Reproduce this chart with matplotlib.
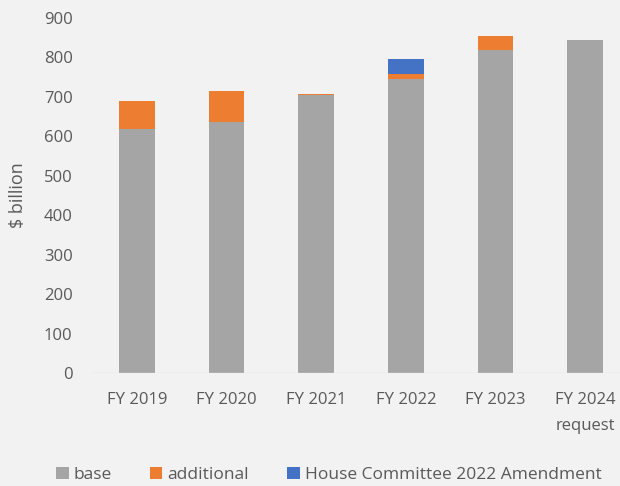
import matplotlib.pyplot as plt
import numpy as np

years = ['FY 2019', 'FY 2020', 'FY 2021', 'FY 2022', 'FY 2023', 'FY 2024\nrequest']
base = [618, 636, 704, 745, 818, 843]
additional = [72, 78, 3, 13, 36, 0]
amendment = [0, 0, 0, 38, 0, 0]

plt.rcParams['font.family'] = ['Open Sans', 'DejaVu Sans']
txt = '#595959'
bg = '#F2F2F2'

fig = plt.figure(figsize=(6.2, 4.86), dpi=100, facecolor=bg)
ax = fig.add_axes([92 / 620, 1 - 373 / 486, 538 / 620, 355 / 486], facecolor=bg)

x = np.arange(len(years))
w = 0.4
ax.bar(x, base, w, color='#A5A5A5', label='base')
ax.bar(x, additional, w, bottom=base, color='#ED7D31', label='additional')
bottom2 = np.array(base) + np.array(additional)
ax.bar(x, amendment, w, bottom=bottom2, color='#4472C4',
       label='House Committee 2022 Amendment')

ax.set_xlim(-0.5, len(years) - 0.5)
ax.set_ylim(0, 900)
ax.set_yticks(range(0, 901, 100))
ax.set_xticks(x)
ax.set_xticklabels(years, fontsize=12, color=txt, linespacing=1.8)
ax.tick_params(axis='y', labelsize=12, colors=txt, length=0, pad=14)
ax.tick_params(axis='x', length=0, pad=14, colors=txt)
for s in ax.spines.values():
    s.set_visible(False)
ax.axhline(0, color='#D9D9D9', lw=1)
ax.set_ylabel('$ billion', fontsize=13, color=txt, labelpad=12)

ax.legend(loc='center', bbox_to_anchor=(0.5 - 32 / 538, -102 / 355), ncol=3,
          frameon=False, fontsize=12.5, labelcolor=txt, handlelength=0.7,
          handleheight=0.7, handletextpad=0.3, columnspacing=2.2)

fig.savefig('out.png', dpi=100, facecolor=bg)
